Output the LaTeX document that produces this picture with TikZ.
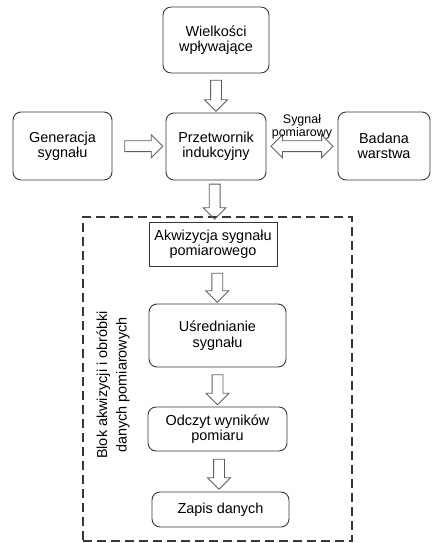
\documentclass[tikz,border=0pt]{standalone}
\usepackage{fontspec}
\setmainfont{Liberation Sans}
\usetikzlibrary{positioning, shapes.arrows, calc}
\definecolor{boxgray}{RGB}{55,55,55}
\definecolor{arrgray}{RGB}{95,95,95}
\tikzset{
    stage/.style={rectangle, rounded corners=8bp, draw=boxgray, line width=0.9bp, align=center, font=\fontsize{14.5}{15.5}\selectfont, inner sep=0pt},
    plainstage/.style={stage, rounded corners=0pt},
    fatarrow/.style={single arrow, draw=arrgray, line width=0.9bp, inner sep=5bp, single arrow head extend=6bp, single arrow head indent=0pt, minimum height=#1},
    fatdouble/.style={double arrow, draw=arrgray, line width=0.9bp, inner sep=5bp, double arrow head extend=6bp, double arrow head indent=0pt, minimum height=#1},
    groupbox/.style={rectangle, draw=boxgray, line width=1.2bp, dash pattern=on 9bp off 5bp, inner sep=0pt},
    sidelbl/.style={font=\fontsize{14.5}{19.5}\selectfont, align=center, rotate=90},
    siglbl/.style={font=\fontsize{12.5}{13}\selectfont, align=center, inner sep=1bp}
}
\begin{document}
\begin{tikzpicture}[x=1bp, y=-1bp]
    \useasboundingbox (0,0) rectangle (431,543);
    % Upper blocks
    \node[stage, minimum width=106bp, minimum height=66bp] (wiel) at (216,40) {Wielkości\\wpływające};
    \node[stage, minimum width=100bp, minimum height=67bp] (prz) at (216,146.5) {Przetwornik\\indukcyjny};
    \node[stage, minimum width=99bp, minimum height=68bp] (gen) at (62.5,146) {Generacja\\sygnału};
    \node[stage, minimum width=92bp, minimum height=68bp] (bad) at (384,146) {Badana\\warstwa};

    % Acquisition block
    \node[groupbox, minimum width=269bp, minimum height=324bp] (blok) at (217.5,379) {};
    \node[sidelbl] (bloklbl) at (113,385) {Blok akwizycji i obróbki\\danych pomiarowych};
    \node[plainstage, minimum width=128bp, minimum height=44bp] (akw) at (213,244) {Akwizycja sygnału\\pomiarowego};
    \node[stage, minimum width=137bp, minimum height=63bp] (usr) at (217.5,335.5) {Uśrednianie\\sygnału};
    \node[stage, minimum width=139bp, minimum height=44bp] (odc) at (217.5,429) {Odczyt wyników\\pomiaru};
    \node[stage, minimum width=137bp, minimum height=35bp] (zap) at (220.5,509.5) {Zapis danych};

    % Block arrows
    \node[fatarrow=31bp, rotate=-90] (a1) at ($(wiel.south)!0.5!(prz.north)$) {};
    \node[fatarrow=38bp] (a2) at ($(gen.east)!0.5!(prz.west)+(2,0)$) {};
    \node[fatdouble=62bp] (a3) at ($(prz.east)!0.5!(bad.west)$) {};
    \node[siglbl, above=0bp of a3] (sig) {Sygnał\\pomiarowy};
    \node[fatarrow=35bp, rotate=-90] (a4) at ($(prz.south)!0.45!(akw.north)$) {};
    \node[fatarrow=29bp, rotate=-90] (a5) at ($(akw.south)!0.5!(usr.north)+(2,0)$) {};
    \node[fatarrow=30bp, rotate=-90] (a6) at ($(usr.south)!0.5!(odc.north)$) {};
    \node[fatarrow=30bp, rotate=-90] (a7) at ($(odc.south)!0.5!(zap.north)$) {};
\end{tikzpicture}
\end{document}
